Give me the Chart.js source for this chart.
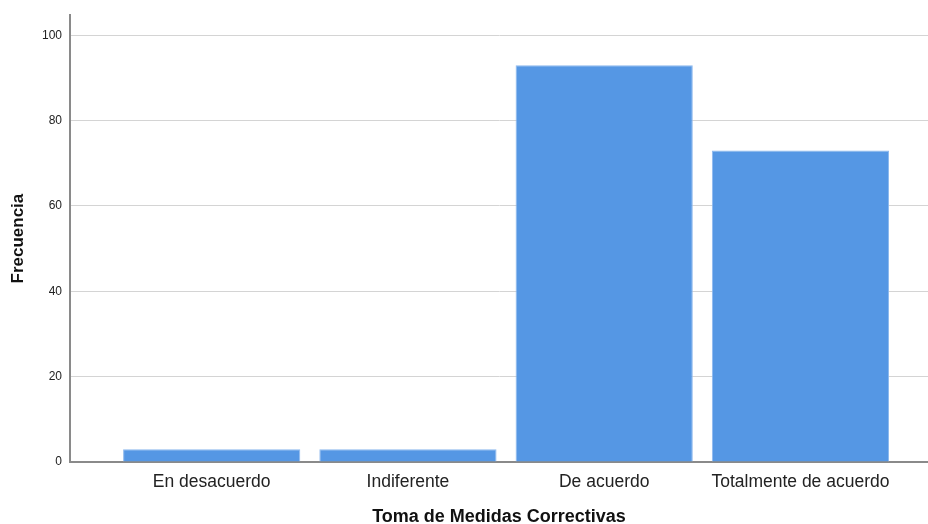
<!DOCTYPE html>
<html>
<head>
<meta charset="utf-8">
<script src="https://cdn.jsdelivr.net/npm/chart.js@4/dist/chart.umd.min.js"></script>
<style>
  html, body { margin: 0; padding: 0; background: #fff; }
  #wrap { width: 928px; height: 524px; position: relative; }
</style>
</head>
<body>
<div id="wrap"><canvas id="frecuenciaChart"></canvas></div>
<script>
const categorias = ['En desacuerdo', 'Indiferente', 'De acuerdo', 'Totalmente de acuerdo']
const frecuencias = [3, 3, 93, 73]
const ticksY = [0, 20, 40, 60, 80, 100]

document.addEventListener('DOMContentLoaded', () => {
  const ctx = document.querySelector('#frecuenciaChart')
  const fuente = "'Liberation Sans', Arial, sans-serif"

  // eje x lineal para dejar el margen a los lados como en el original (SPSS)
  const puntos = frecuencias.map((v, i) => ({ x: i + 1, y: v }))

  new Chart(ctx, {
    type: 'bar',
    data: {
      datasets: [{
        data: puntos,
        backgroundColor: '#5597e4',
        borderColor: '#8db8ee',
        borderWidth: 1,
        categoryPercentage: 1,
        barPercentage: 0.903
      }]
    },
    options: {
      responsive: true,
      maintainAspectRatio: false,
      animation: false,
      layout: { padding: { top: 10, right: 0, bottom: 0, left: 0 } },
      plugins: {
        legend: { display: false },
        tooltip: { enabled: false }
      },
      scales: {
        x: {
          type: 'linear',
          offset: false,
          min: 0.278,
          max: 4.65,
          afterBuildTicks: (scale) => {
            scale.ticks = categorias.map((c, i) => ({ value: i + 1 }))
          },
          afterFit: (scale) => { scale.height = 62 },
          grid: { display: false, offset: false, drawTicks: false },
          border: { display: true, color: '#8a8a8a', width: 2 },
          ticks: {
            autoSkip: false,
            maxRotation: 0,
            padding: 10,
            color: '#222',
            font: { family: fuente, size: 17.5 },
            callback: (v) => categorias[v - 1] || ''
          },
          title: {
            display: true,
            text: 'Toma de Medidas Correctivas',
            color: '#111',
            font: { family: fuente, size: 18, weight: 'bold', lineHeight: 1 },
            padding: { top: 0, bottom: -2 }
          }
        },
        y: {
          min: 0,
          max: 104.7,
          afterBuildTicks: (scale) => {
            scale.ticks = ticksY.map((v) => ({ value: v }))
          },
          afterFit: (scale) => { scale.width = 70 },
          grid: { color: '#d4d4d4', lineWidth: 1, drawTicks: false },
          border: { display: true, color: '#8a8a8a', width: 2 },
          ticks: {
            padding: 8,
            color: '#222',
            font: { family: fuente, size: 12 }
          },
          title: {
            display: true,
            text: 'Frecuencia',
            color: '#111',
            font: { family: fuente, size: 17, weight: 'bold' },
            padding: { top: 8, bottom: 0 }
          }
        }
      }
    }
  })
})
</script>
</body>
</html>
